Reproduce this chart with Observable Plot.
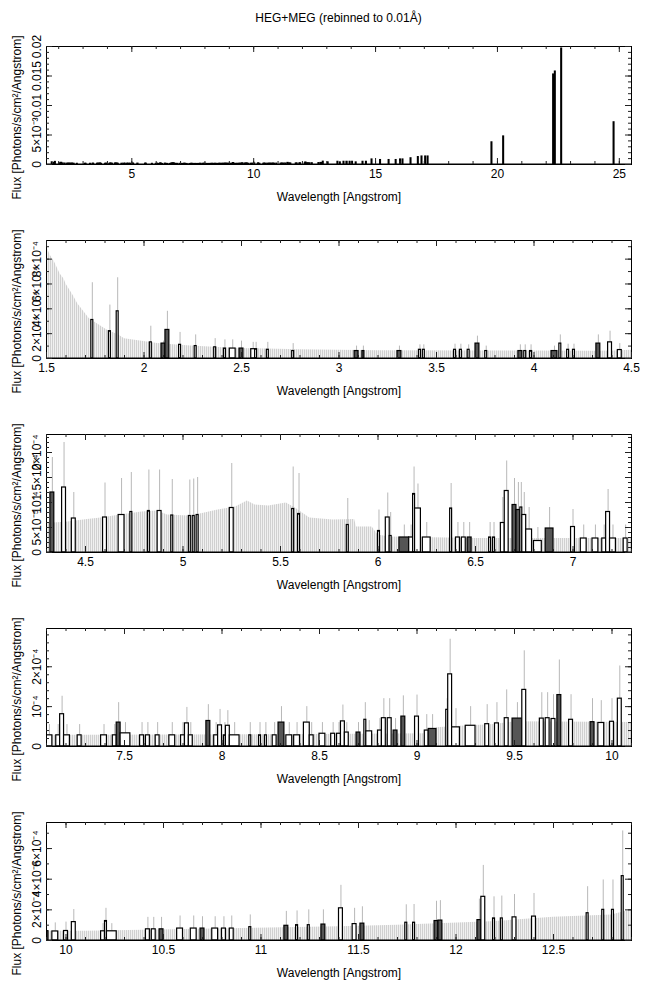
<!DOCTYPE html>
<html><head><meta charset="utf-8">
<script src="https://cdn.jsdelivr.net/npm/d3@7"></script>
<script src="https://cdn.jsdelivr.net/npm/@observablehq/plot@0.6"></script>
<style>
html,body{margin:0;padding:0;background:#fff;overflow:hidden;}
body{font-family:"Liberation Sans",Arial,Helvetica,sans-serif;width:650px;}
#title{height:34px;line-height:36px;font-size:12px;text-align:center;padding-left:46px;padding-right:19px;box-sizing:border-box;width:650px;color:#000;}
#charts svg{display:block;}
</style></head><body>
<div id="title">HEG+MEG (rebinned to 0.01Å)</div>
<div id="charts"></div>
<script>
// ---------- data ----------
// error envelope (1σ upper level of empty bins): [wavelength Å, flux]
const envelope = [
  [1.50,9.0e-4],[1.52,8.3e-4],[1.54,7.8e-4],[1.555,7.3e-4],[1.57,6.8e-4],[1.59,6.4e-4],[1.60,6.0e-4],
  [1.62,5.5e-4],[1.64,5.0e-4],[1.66,4.4e-4],[1.68,4.0e-4],[1.72,3.2e-4],[1.78,2.6e-4],[1.81,2.3e-4],
  [1.87,1.9e-4],[1.90,1.6e-4],[1.98,1.4e-4],[2.07,1.2e-4],[2.15,1.1e-4],[2.24,1.0e-4],[2.41,0.86e-4],
  [2.50,0.80e-4],[2.80,0.70e-4],[3.20,0.62e-4],[4.00,0.60e-4],[4.30,5.8e-5],[4.41,6.1e-5],[4.51,6.6e-5],
  [4.58,6.9e-5],[4.68,7.5e-5],[4.79,8.1e-5],[4.87,8.3e-5],[4.92,7.5e-5],[5.03,7.3e-5],[5.10,7.8e-5],
  [5.18,8.5e-5],[5.27,9.1e-5],[5.33,1.03e-4],[5.37,9.5e-5],[5.44,9.3e-5],[5.53,9.9e-5],[5.58,8.8e-5],
  [5.65,6.9e-5],[5.77,6.5e-5],[5.88,6.6e-5],[5.89,5.1e-5],[5.97,5.1e-5],[6.00,3.5e-5],[6.06,3.1e-5],
  [6.50,2.8e-5],[7.00,2.8e-5],[7.30,2.8e-5],[8.50,3.0e-5],[9.07,3.2e-5],[9.10,4.7e-5],[9.20,5.0e-5],
  [9.40,5.5e-5],[9.50,6.2e-5],[10.10,6.0e-5],[10.40,6.7e-5],[10.90,7.8e-5],[11.40,8.9e-5],[11.70,1.0e-4],
  [12.18,1.22e-4],[12.50,1.51e-4],[12.80,1.67e-4],[12.90,2.0e-4]
];
// detected bins: [λ low, λ high, flux, error-bar top, grating]
const lines1 = [
  [1.73,1.74,3.1e-4,6.1e-4,"MEG"],[1.82,1.83,2.2e-4,4.3e-4,"MEG"],[1.86,1.87,3.8e-4,6.5e-4,"MEG"],
  [2.03,2.04,1.3e-4,2.6e-4,"MEG"],[2.09,2.11,1.2e-4,1.4e-4,"HEG"],[2.11,2.13,2.3e-4,3.8e-4,"HEG"],
  [2.18,2.19,1.1e-4,2.1e-4,"MEG"],[2.26,2.27,1.0e-4,1.9e-4,"MEG"],[2.36,2.37,0.9e-4,1.6e-4,"MEG"],
  [2.41,2.42,0.8e-4,1.5e-4,"MEG"],[2.44,2.47,0.8e-4,1.5e-4,"MEG"],[2.49,2.51,0.8e-4,1.4e-4,"HEG"],
  [2.55,2.57,0.75e-4,1.3e-4,"MEG"],[2.57,2.58,0.75e-4,1.3e-4,"MEG"],[2.63,2.64,0.7e-4,1.3e-4,"MEG"],
  [2.76,2.77,0.6e-4,1.2e-4,"MEG"],[3.08,3.10,0.6e-4,1.0e-4,"HEG"],[3.12,3.13,0.6e-4,1.0e-4,"HEG"],
  [3.30,3.32,0.6e-4,1.0e-4,"HEG"],[3.41,3.42,0.7e-4,1.1e-4,"MEG"],[3.43,3.44,0.7e-4,1.1e-4,"MEG"],
  [3.59,3.60,0.7e-4,1.15e-4,"MEG"],[3.62,3.63,0.7e-4,1.15e-4,"MEG"],[3.66,3.67,0.7e-4,1.1e-4,"MEG"],
  [3.70,3.72,1.2e-4,1.8e-4,"HEG"],[3.75,3.76,0.6e-4,1.0e-4,"MEG"],[3.92,3.94,0.6e-4,1.1e-4,"HEG"],
  [3.95,3.96,0.6e-4,1.1e-4,"MEG"],[3.98,3.99,0.6e-4,1.1e-4,"MEG"],[4.09,4.12,0.6e-4,1.0e-4,"HEG"],
  [4.13,4.14,1.2e-4,1.9e-4,"MEG"],[4.17,4.18,0.7e-4,1.15e-4,"MEG"],[4.20,4.21,0.7e-4,1.15e-4,"MEG"],
  [4.32,4.34,1.2e-4,1.9e-4,"HEG"],[4.38,4.40,1.3e-4,2.2e-4,"MEG"],[4.43,4.45,0.68e-4,1.2e-4,"MEG"]
];
const lines2 = [
  [4.59,4.61,7.0e-5,1.39e-4,"MEG"],[4.67,4.70,7.5e-5,1.48e-4,"MEG"],[4.73,4.74,8.1e-5,1.6e-4,"MEG"],
  [4.82,4.83,8.3e-5,1.65e-4,"MEG"],[4.87,4.89,8.3e-5,1.65e-4,"MEG"],[4.94,4.95,7.4e-5,1.46e-4,"MEG"],
  [5.03,5.04,7.3e-5,1.45e-4,"MEG"],[5.05,5.06,7.3e-5,1.47e-4,"MEG"],[5.07,5.08,7.5e-5,1.5e-4,"MEG"],
  [5.24,5.26,8.9e-5,1.78e-4,"MEG"],[5.56,5.57,8.7e-5,1.71e-4,"MEG"],[5.59,5.60,7.7e-5,1.58e-4,"MEG"],
  [5.84,5.85,5.5e-5,1.08e-4,"MEG"],[6.00,6.01,4.3e-5,8.5e-5,"MEG"],[6.04,6.06,7.0e-5,1.19e-4,"MEG"],
  [6.06,6.07,3.3e-5,8.0e-5,"MEG"],[6.11,6.16,3.0e-5,5.5e-5,"HEG"],[6.16,6.18,3.0e-5,5.5e-5,"MEG"],
  [6.18,6.19,1.17e-4,1.71e-4,"MEG"],[6.19,6.22,8.8e-5,1.37e-4,"MEG"],[6.23,6.27,3.0e-5,6.0e-5,"MEG"],
  [6.37,6.38,8.8e-5,1.38e-4,"MEG"],[6.40,6.42,3.0e-5,6.0e-5,"MEG"],[6.43,6.45,3.0e-5,6.0e-5,"MEG"],
  [6.46,6.48,3.0e-5,6.0e-5,"HEG"],[6.57,6.58,3.0e-5,6.0e-5,"MEG"],[6.59,6.60,3.0e-5,6.0e-5,"MEG"],
  [6.63,6.65,5.9e-5,1.1e-4,"MEG"],[6.65,6.67,1.23e-4,1.83e-4,"MEG"],[6.69,6.71,9.5e-5,1.48e-4,"HEG"],
  [6.71,6.73,8.5e-5,1.4e-4,"HEG"],[6.73,6.74,9.0e-5,1.4e-4,"MEG"],[6.74,6.76,7.5e-5,1.2e-4,"MEG"],
  [6.76,6.79,4.6e-5,9.0e-5,"MEG"],[6.80,6.84,2.3e-5,5.0e-5,"MEG"],[6.86,6.90,4.8e-5,9.0e-5,"HEG"],
  [6.99,7.01,5.1e-5,8.6e-5,"MEG"],[7.04,7.07,2.8e-5,5.5e-5,"MEG"],[7.10,7.13,2.8e-5,5.5e-5,"MEG"],
  [7.15,7.17,2.8e-5,5.5e-5,"MEG"],[7.17,7.19,8.1e-5,1.26e-4,"MEG"],[7.19,7.22,2.8e-5,5.5e-5,"MEG"],
  [7.26,7.28,2.8e-5,5.5e-5,"MEG"]
];
const lines3 = [
  [7.38,7.41,2.8e-5,5.5e-5,"MEG"],[7.44,7.46,2.8e-5,5.5e-5,"MEG"],[7.46,7.48,6.0e-5,1.1e-4,"HEG"],
  [7.48,7.53,3.3e-5,6.0e-5,"MEG"],[7.58,7.60,2.8e-5,6.0e-5,"MEG"],[7.61,7.63,2.8e-5,6.0e-5,"MEG"],
  [7.66,7.68,2.8e-5,6.0e-5,"MEG"],[7.73,7.76,2.8e-5,6.0e-5,"MEG"],[7.79,7.81,2.8e-5,6.0e-5,"MEG"],
  [7.81,7.83,5.8e-5,9.8e-5,"MEG"],[7.83,7.85,2.8e-5,6.0e-5,"MEG"],[7.92,7.94,6.4e-5,1.05e-4,"HEG"],
  [7.96,7.98,2.8e-5,6.0e-5,"MEG"],[7.98,8.00,5.3e-5,9.3e-5,"MEG"],[8.01,8.02,2.8e-5,6.0e-5,"MEG"],
  [8.02,8.04,5.2e-5,9.0e-5,"MEG"],[8.04,8.09,2.8e-5,6.0e-5,"MEG"],[8.14,8.15,2.8e-5,6.0e-5,"MEG"],
  [8.19,8.20,2.8e-5,6.0e-5,"MEG"],[8.22,8.23,2.8e-5,6.0e-5,"MEG"],[8.26,8.28,2.8e-5,6.0e-5,"MEG"],
  [8.29,8.32,6.0e-5,1.0e-4,"HEG"],[8.33,8.36,2.8e-5,6.0e-5,"MEG"],[8.37,8.40,2.8e-5,6.0e-5,"MEG"],
  [8.42,8.45,6.0e-5,1.0e-4,"MEG"],[8.45,8.47,2.8e-5,6.0e-5,"MEG"],[8.50,8.53,3.2e-5,6.0e-5,"MEG"],
  [8.56,8.58,3.2e-5,6.0e-5,"MEG"],[8.59,8.61,3.2e-5,6.0e-5,"MEG"],[8.61,8.63,6.3e-5,1.04e-4,"MEG"],
  [8.63,8.65,3.5e-5,6.0e-5,"MEG"],[8.69,8.71,3.5e-5,6.0e-5,"HEG"],[8.73,8.74,6.7e-5,1.1e-4,"MEG"],
  [8.74,8.77,3.8e-5,6.5e-5,"MEG"],[8.80,8.82,4.0e-5,7.0e-5,"MEG"],[8.82,8.84,7.1e-5,1.2e-4,"MEG"],
  [8.85,8.87,7.1e-5,1.2e-4,"MEG"],[8.88,8.90,4.0e-5,7.0e-5,"HEG"],[8.92,8.94,7.5e-5,1.27e-4,"HEG"],
  [8.99,9.01,7.5e-5,1.29e-4,"MEG"],[9.04,9.06,4.0e-5,8.0e-5,"MEG"],[9.06,9.10,4.4e-5,8.0e-5,"HEG"],
  [9.15,9.16,9.2e-5,1.2e-4,"MEG"],[9.16,9.18,1.81e-4,2.69e-4,"MEG"],[9.18,9.22,4.8e-5,9.5e-5,"MEG"],
  [9.25,9.30,5.2e-5,1.0e-4,"MEG"],[9.35,9.37,5.6e-5,1.05e-4,"MEG"],[9.40,9.42,5.8e-5,1.1e-4,"MEG"],
  [9.45,9.47,7.1e-5,1.42e-4,"MEG"],[9.49,9.54,7.0e-5,1.1e-4,"HEG"],[9.54,9.56,1.42e-4,2.4e-4,"MEG"],
  [9.63,9.65,7.0e-5,1.35e-4,"MEG"],[9.66,9.68,7.1e-5,1.35e-4,"MEG"],[9.69,9.71,6.9e-5,1.3e-4,"MEG"],
  [9.72,9.74,1.29e-4,2.17e-4,"HEG"],[9.78,9.80,6.7e-5,1.3e-4,"MEG"],[9.89,9.91,6.1e-5,1.2e-4,"HEG"],
  [9.93,9.96,5.9e-5,1.15e-4,"MEG"],[9.99,10.01,6.2e-5,1.2e-4,"MEG"],[10.03,10.05,1.2e-4,2.02e-4,"MEG"]
];
const lines4 = [
  [10.18,10.20,6.0e-5,1.1e-4,"MEG"],[10.20,10.21,1.27e-4,2.1e-4,"MEG"],[10.21,10.26,6.0e-5,1.1e-4,"MEG"],
  [10.41,10.43,7.3e-5,1.51e-4,"MEG"],[10.44,10.46,7.3e-5,1.51e-4,"MEG"],[10.48,10.50,7.3e-5,1.51e-4,"HEG"],
  [10.57,10.60,7.8e-5,1.6e-4,"MEG"],[10.64,10.67,7.8e-5,1.6e-4,"MEG"],[10.69,10.71,7.8e-5,1.55e-4,"HEG"],
  [10.75,10.78,7.8e-5,1.55e-4,"MEG"],[10.80,10.82,7.8e-5,1.55e-4,"MEG"],[10.84,10.86,7.8e-5,1.6e-4,"MEG"],
  [10.94,10.95,8.7e-5,1.67e-4,"MEG"],[11.12,11.14,9.6e-5,1.9e-4,"HEG"],[11.18,11.19,1.0e-4,1.93e-4,"MEG"],
  [11.24,11.25,1.0e-4,2.0e-4,"MEG"],[11.31,11.33,1.04e-4,2.0e-4,"HEG"],[11.40,11.42,2.1e-4,3.6e-4,"MEG"],
  [11.47,11.49,1.07e-4,2.1e-4,"MEG"],[11.51,11.53,1.1e-4,2.2e-4,"HEG"],[11.74,11.75,1.16e-4,2.33e-4,"MEG"],
  [11.78,11.79,1.16e-4,2.35e-4,"MEG"],[11.89,11.91,1.27e-4,2.56e-4,"HEG"],[11.91,11.93,1.3e-4,2.6e-4,"HEG"],
  [12.11,12.13,1.33e-4,2.7e-4,"HEG"],[12.13,12.15,2.85e-4,4.9e-4,"MEG"],[12.19,12.20,1.44e-4,2.85e-4,"MEG"],
  [12.23,12.24,1.44e-4,2.9e-4,"MEG"],[12.29,12.31,1.51e-4,3.0e-4,"MEG"],[12.39,12.41,1.56e-4,3.07e-4,"MEG"],
  [12.67,12.68,1.78e-4,3.51e-4,"MEG"],[12.75,12.76,2.0e-4,3.95e-4,"MEG"],[12.80,12.81,2.0e-4,3.95e-4,"MEG"],
  [12.85,12.86,4.2e-4,7.15e-4,"MEG"]
];
// long-wavelength lines only seen in the overview panel
const linesLong = [
  [13.05,13.06,3e-4,null,"MEG"],[13.45,13.46,4e-4,null,"MEG"],[13.55,13.56,3e-4,null,"MEG"],
  [13.70,13.71,4e-4,null,"MEG"],[13.82,13.84,4e-4,null,"MEG"],[13.95,13.96,4e-4,null,"MEG"],
  [14.05,14.06,4e-4,null,"MEG"],[14.20,14.21,3e-4,null,"MEG"],[14.48,14.49,4e-4,null,"MEG"],
  [14.62,14.63,4e-4,null,"MEG"],[14.85,14.86,8e-4,null,"MEG"],[15.20,15.21,7e-4,null,"MEG"],
  [15.55,15.56,7e-4,null,"MEG"],[15.84,15.85,7e-4,null,"MEG"],[16.02,16.03,8e-4,null,"MEG"],
  [16.12,16.13,8e-4,null,"MEG"],[16.45,16.46,1.0e-3,null,"MEG"],[16.75,16.76,1.2e-3,null,"MEG"],
  [16.90,16.91,1.3e-3,null,"MEG"],[17.05,17.06,1.3e-3,null,"MEG"],[17.15,17.16,1.3e-3,null,"MEG"],
  [19.77,19.78,3.7e-3,null,"MEG"],[20.25,20.26,4.7e-3,null,"MEG"],[22.30,22.31,1.52e-2,null,"MEG"],
  [22.37,22.38,1.57e-2,null,"MEG"],[22.63,22.64,1.96e-2,null,"MEG"],[24.78,24.79,7.1e-3,null,"MEG"]
];
const allLines = [...lines1, ...lines2, ...lines3, ...lines4, ...linesLong];

// panel ranges and axis ticks
const xDomains = [[1.5,25.5],[1.5,4.5],[4.3,7.3],[7.1,10.1],[9.9,12.9]];
const yMax = [0.02, 9.5e-4, 2.36e-4, 2.96e-4, 7.7e-4];
const xTickVals = [[5,10,15,20,25],[1.5,2,2.5,3,3.5,4,4.5],[4.5,5,5.5,6,6.5,7],[7.5,8,8.5,9,9.5,10],[10,10.5,11,11.5,12,12.5]];
const xMinorStep = [1, 0.1, 0.1, 0.1, 0.1];
const yTickVals = [[0,0.005,0.01,0.015,0.02],[0,2e-4,4e-4,6e-4,8e-4],[0,5e-5,1e-4,1.5e-4,2e-4],[0,1e-4,2e-4],[0,2e-4,4e-4,6e-4]];
const yTickText = [["0","5×10⁻³","0.01","0.015","0.02"],["0","2×10⁻⁴","4×10⁻⁴","6×10⁻⁴","8×10⁻⁴"],["0","5×10⁻⁵","10⁻⁴","1.5×10⁻⁴","2×10⁻⁴"],["0","10⁻⁴","2×10⁻⁴"],["0","2×10⁻⁴","4×10⁻⁴","6×10⁻⁴"]];
const yMinorStep = [0.001, 1e-4, 1e-5, 2e-5, 1e-4];
const xLabel = "Wavelength [Angstrom]";
const yLabel = "Flux [Photons/s/cm²/Angstrom]";

// ---------- drawing ----------
const W = 650, H = 194, mt = 12, mb = 64, ml = 46, mr = 19;
const FH = H - mt - mb, FW = W - ml - mr;
const stepTicks = (a, b, s) => d3.range(Math.ceil(a / s - 1e-9), Math.floor(b / s + 1e-9) + 1).map(k => +(k * s).toPrecision(10));
const container = document.getElementById("charts");

xDomains.forEach(([x0, x1], i) => {
  const data = allLines.filter(d => d[1] >= x0 && d[0] <= x1);
  const xMinor = stepTicks(x0, x1, xMinorStep[i]);
  const yMinor = stepTicks(0, yMax[i], yMinorStep[i]);
  const labs = yTickText[i], vals = yTickVals[i];
  const marks = [];
  if (i > 0) {
    marks.push(Plot.areaY(envelope, {x: d => d[0], y: d => d[1], fill: "url(#hatch)", clip: true}));
    marks.push(Plot.ruleX(data.filter(d => d[3] != null), {x: d => (d[0] + d[1]) / 2, y1: d => d[2], y2: d => d[3], stroke: "#b8b8b8", strokeWidth: 1, clip: true}));
  }
  marks.push(Plot.rect(data, {x1: d => d[0], x2: d => d[1], y1: 0, y2: d => d[2], fill: d => d[4], stroke: "black", strokeWidth: i === 0 ? 1.8 : 1.2, clip: true}));
  marks.push(Plot.ruleY([0], {stroke: "black", strokeWidth: 2, clip: true}));
  marks.push(Plot.frame({stroke: "black", strokeWidth: 1}));
  // inward ticks on all four sides
  marks.push(Plot.ruleX(xMinor, {x: d => d, insetTop: FH - 3, stroke: "#222"}));
  marks.push(Plot.ruleX(xMinor, {x: d => d, insetBottom: FH - 3, stroke: "#222"}));
  marks.push(Plot.ruleX(xTickVals[i], {x: d => d, insetTop: FH - 6, stroke: "#222"}));
  marks.push(Plot.ruleX(xTickVals[i], {x: d => d, insetBottom: FH - 6, stroke: "#222"}));
  marks.push(Plot.ruleY(yMinor, {y: d => d, insetRight: FW - 3, stroke: "#222"}));
  marks.push(Plot.ruleY(yMinor, {y: d => d, insetLeft: FW - 3, stroke: "#222"}));
  marks.push(Plot.ruleY(vals, {y: d => d, insetRight: FW - 6, stroke: "#222"}));
  marks.push(Plot.ruleY(vals, {y: d => d, insetLeft: FW - 6, stroke: "#222"}));
  marks.push(Plot.axisX({ticks: xTickVals[i], tickSize: 0, tickPadding: 5, label: null, tickFormat: d => String(d)}));
  marks.push(Plot.axisY({ticks: vals, tickSize: 0, tickPadding: 6, tickRotate: -90, label: null, tickFormat: d => labs[vals.indexOf(d)]}));
  marks.push(Plot.text([xLabel], {frameAnchor: "bottom", dy: 33, textAnchor: "middle", lineAnchor: "middle", fontSize: 12}));
  marks.push(Plot.text([yLabel], {frameAnchor: "left", rotate: -90, dx: -29, dy: 12, textAnchor: "middle", lineAnchor: "middle", fontSize: 12}));

  const svg = Plot.plot({
    width: W, height: H,
    marginTop: mt, marginBottom: mb, marginLeft: ml, marginRight: mr,
    x: {domain: [x0, x1]},
    y: {domain: [0, yMax[i]]},
    color: {domain: ["MEG", "HEG"], range: ["white", "#555555"]},
    style: {fontFamily: "'Liberation Sans', Arial, Helvetica, sans-serif", fontSize: "12px", background: "white", color: "black", overflow: "visible"},
    marks
  });
  const ns = "http://www.w3.org/2000/svg";
  const defs = document.createElementNS(ns, "defs");
  defs.innerHTML = '<pattern id="hatch" patternUnits="userSpaceOnUse" width="2" height="10"><rect width="2" height="10" fill="#f0f0f0"/><rect width="1" height="10" fill="#d0d0d0"/></pattern>';
  svg.insertBefore(defs, svg.firstChild);
  container.appendChild(svg);
});
</script>
</body></html>
